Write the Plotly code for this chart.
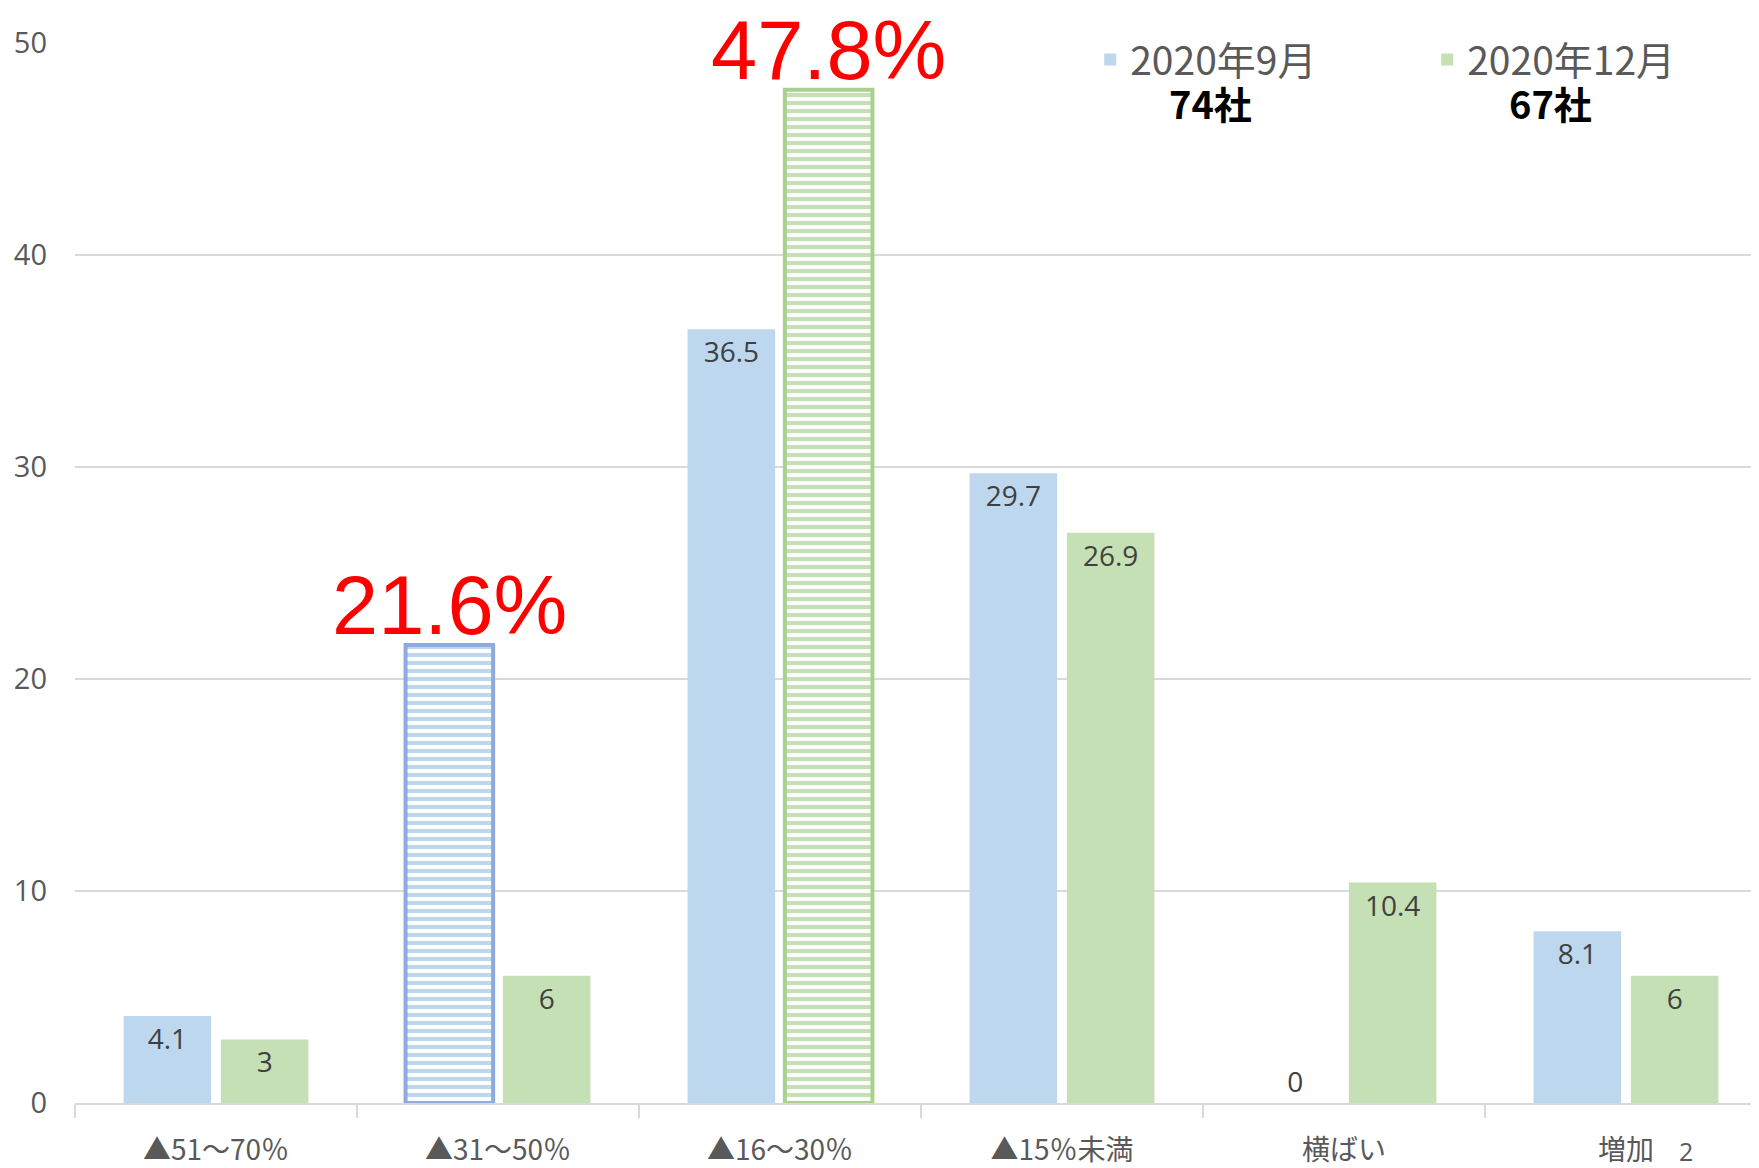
import plotly.graph_objects as go

categories = ["▲51～70％", "▲31～50％", "▲16～30％", "▲15％未満", "横ばい", "増加"]
series_names = ["2020年9月", "2020年12月"]
company_counts = [74, 67]
sep_values = [4.1, 21.6, 36.5, 29.7, 0, 8.1]
dec_values = [3, 6, 47.8, 26.9, 10.4, 6]
sep_highlight = 1   # index of highlighted bar in 2020年9月
dec_highlight = 2   # index of highlighted bar in 2020年12月
y_ticks = [0, 10, 20, 30, 40, 50]
page_number = "2"

BLUE = "#BDD7EE"
GREEN = "#C5E0B4"
BLUE_EDGE = "#8FAADC"
GREEN_EDGE = "#A9D18E"
LABEL = "#404040"
AXIS_TXT = "#595959"
GRID = "#D9D9D9"
CJK = "Noto Sans CJK JP"
BARGAP = 0.31


def make_trace(name, values, hi, color, edge):
    textpos, tmpl = [], []
    shapes, lcol, lw = [], [], []
    for i, v in enumerate(values):
        if i == hi:
            textpos.append("none")
            tmpl.append("")
            shapes.append("-")
            lcol.append(edge)
            lw.append(4)
        else:
            textpos.append("outside" if v == 0 else "inside")
            tmpl.append("%{y}")
            shapes.append("")
            lcol.append(color)
            lw.append(0)
    return go.Bar(
        name=name,
        x=categories,
        y=values,
        texttemplate=tmpl,
        textposition=textpos,
        insidetextanchor="end",
        textangle=0,
        constraintext="none",
        cliponaxis=False,
        textfont=dict(size=28, color=LABEL, family="Open Sans"),
        marker=dict(
            color=color,
            line=dict(color=lcol, width=lw),
            pattern=dict(shape=shapes, fgcolor=color, bgcolor="white",
                         size=8, solidity=0.5, fillmode="replace"),
        ),
        hoverinfo="x+y",
    )


fig = go.Figure()
fig.add_trace(make_trace(series_names[0], sep_values, sep_highlight, BLUE, BLUE_EDGE))
fig.add_trace(make_trace(series_names[1], dec_values, dec_highlight, GREEN, GREEN_EDGE))

annotations = []
# big red highlight labels above the hatched bars (bar centre offset within group)
slot = (1 - BARGAP) / 2
for values, hi, off in [(sep_values, sep_highlight, -slot / 2),
                        (dec_values, dec_highlight, slot / 2)]:
    annotations.append(dict(
        x=hi + off, y=values[hi], xref="x", yref="y",
        text=f"{values[hi]}%", showarrow=False,
        xanchor="center", yanchor="bottom", yshift=-9,
        font=dict(family="Liberation Sans", size=83, color="#FF0000"),
    ))

for xpos, cnt in zip([0.671, 0.872], company_counts):
    annotations.append(dict(
        x=xpos, y=0.944, xref="paper", yref="paper",
        text=f"<b>{cnt}社</b>", showarrow=False,
        font=dict(family=CJK, size=38, color="#000000"),
        xanchor="center", yanchor="middle",
    ))
annotations.append(dict(
    x=0.952, y=-0.063, xref="paper", yref="paper", text=page_number,
    showarrow=False, font=dict(family="Open Sans", size=25, color=AXIS_TXT),
    xanchor="center", yanchor="bottom",
))

fig.update_layout(
    width=1759,
    height=1168,
    margin=dict(l=67, r=0, t=35, b=73, autoexpand=False),
    paper_bgcolor="white",
    plot_bgcolor="white",
    barmode="group",
    bargap=BARGAP,
    bargroupgap=0.1,
    showlegend=True,
    legend=dict(
        orientation="h",
        x=0.600, xanchor="left",
        y=1.0145, yanchor="top",
        font=dict(family=CJK, size=39, color=AXIS_TXT),
        entrywidth=292,
        bgcolor="rgba(0,0,0,0)",
        traceorder="normal",
    ),
    annotations=annotations,
    xaxis=dict(
        type="category",
        range=[-0.5, 5.5],
        showline=True,
        linecolor=GRID,
        linewidth=2,
        ticks="outside",
        tickson="boundaries",
        ticklen=13,
        tickcolor=GRID,
        tickwidth=2,
        ticklabelstandoff=21,
        tickfont=dict(family=CJK, size=28, color=AXIS_TXT),
        showgrid=False,
        automargin=False,
    ),
    yaxis=dict(
        range=[0, 50],
        tickvals=y_ticks,
        showgrid=True,
        gridcolor=GRID,
        gridwidth=2,
        zeroline=False,
        showline=False,
        ticks="",
        ticklabelstandoff=27,
        tickfont=dict(family="Open Sans", size=29, color=AXIS_TXT),
        automargin=False,
    ),
)

fig.write_html("out.html")
